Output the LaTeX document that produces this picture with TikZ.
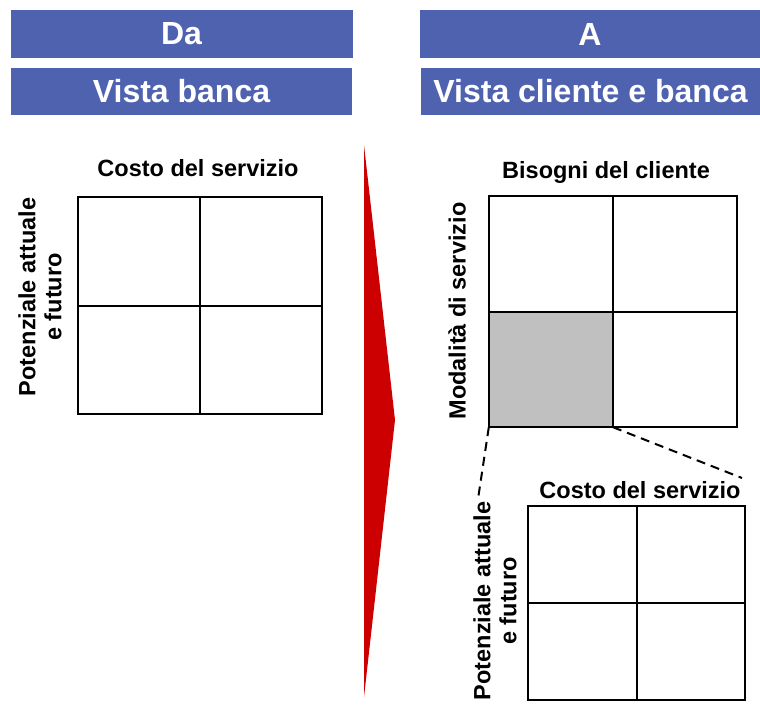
\documentclass[tikz,border=0pt]{standalone}
\usepackage{fontspec}
\setmainfont{Liberation Sans}
\definecolor{bannerblue}{RGB}{79,98,175}
\definecolor{arrowred}{RGB}{204,0,0}
\definecolor{cellgray}{RGB}{192,192,192}
\tikzset{
  banner/.style={fill=bannerblue, text=white, inner sep=0pt, minimum height=47pt,
    font=\bfseries\fontsize{32}{34}\selectfont},
  matrixbox/.style={draw=none, inner sep=0pt},
  gridline/.style={line width=2pt},
  axislabel/.style={font=\bfseries\fontsize{23.5}{26}\selectfont, align=center, inner sep=0pt},
}
\begin{document}
\begin{tikzpicture}[x=1pt,y=-1pt]

    \useasboundingbox (0,0) rectangle (760,705);

    % intestazioni
    \node[banner, minimum width=342pt, minimum height=48pt] (da) at (181.5,34) {Da};
    \node[banner, minimum width=341pt] (vistabanca) at (181.5,91.5) {Vista banca};
    \node[banner, minimum width=340pt, minimum height=48pt] (a) at (590,34) {A};
    \node[banner, minimum width=339pt] (vistacliente) at (590.5,91.5) {Vista cliente e banca};

    % freccia rossa
    \fill[arrowred] (364,145) -- (395,420) -- (364,697) -- cycle;

    % matrici
    \node[matrixbox, minimum width=244pt, minimum height=217pt] (left) at (200,305.5) {};
    \node[matrixbox, minimum width=248pt, minimum height=231pt] (right) at (613,311.5) {};
    \node[matrixbox, minimum width=217pt, minimum height=194pt] (bottom) at (636.5,603) {};

    \fill[cellgray] (right.west) rectangle (right.south);

    \foreach \m in {left,right,bottom}
      \draw[gridline] (\m.north west) rectangle (\m.south east)
        (\m.north) -- (\m.south) (\m.west) -- (\m.east);

    % etichette
    \node[axislabel] (costoL) at (198,168) {Costo del servizio};
    \node[axislabel, rotate=90] (potL) at (40,297) {Potenziale attuale\\e futuro};
    \node[axislabel] (bisogni) at (606,172) {Bisogni del cliente};
    \node[axislabel, rotate=90] (modalita) at (457,311) {Modalità di servizio};
    \node[axislabel] (costoB) at (640,490) {Costo del servizio};
    \node[axislabel, rotate=90] (potB) at (495,601) {Potenziale attuale\\e futuro};

    % zoom tratteggiato
    \coordinate (zoomL) at (478,499);
    \coordinate (zoomR) at (742,478);
    \draw[gridline, dash pattern=on 9pt off 6pt] (right.south west) -- (zoomL);
    \draw[gridline, dash pattern=on 9pt off 6pt] (right.south) -- (zoomR);

  \end{tikzpicture}
\end{document}
